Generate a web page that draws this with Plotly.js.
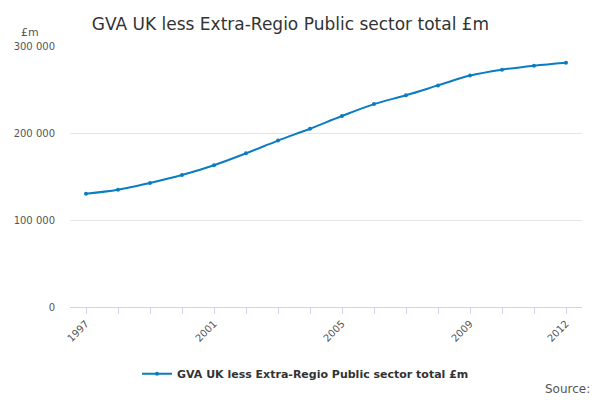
<!DOCTYPE html>
<html>
<head>
<script src="https://cdn.plot.ly/plotly-3.0.1.min.js"></script>
<style>body{margin:0}</style>
</head>
<body>
<div id="chart" style="width:600px;height:400px"></div>
<script>
const years = [1997, 1998, 1999, 2000, 2001, 2002, 2003, 2004, 2005, 2006, 2007, 2008, 2009, 2010, 2011, 2012];
const gva = [130200, 134700, 142600, 151700, 163000, 176600, 191300, 204900, 219600, 233200, 243400, 254700, 266000, 272800, 277400, 280800];
const tickYears = [1997, 2001, 2005, 2009, 2012];
const yTicks = [0, 100000, 200000, 300000];
const yLabels = ['0', '100 000', '200 000', '300 000'];
const seriesName = 'GVA UK less Extra-Regio Public sector total £m';

Plotly.newPlot('chart', [{
    x: years,
    y: gva,
    name: seriesName,
    mode: 'lines+markers',
    type: 'scatter',
    line: { color: '#0a7cc1', width: 2, shape: 'spline' },
    marker: { color: '#0a7cc1', size: 4 }
}], {
    width: 600,
    height: 400,
    font: { family: 'DejaVu Sans, sans-serif', color: '#555', size: 10 },
    title: { text: seriesName, x: 0.153, xanchor: 'left', y: 0.955, font: { size: 17, color: '#333' } },
    margin: { l: 70, r: 18, t: 46, b: 89 },
    showlegend: true,
    legend: { orientation: 'h', x: 0.46, xanchor: 'center', y: -0.2, font: { size: 11, color: '#333', weight: 'bold' } },
    xaxis: {
        range: [1996.5, 2012.5],
        tickvals: tickYears,
        tickangle: -45,
        showgrid: false,
        ticks: 'outside',
        ticklen: 6,
        tickcolor: '#ccd6eb',
        minor: { tickvals: years, ticks: 'outside', ticklen: 6, tickcolor: '#ccd6eb', showgrid: false },
        showline: true,
        linecolor: '#ccd6eb',
        zeroline: false
    },
    yaxis: {
        range: [0, 300000],
        tickvals: yTicks,
        ticktext: yLabels,
        gridcolor: '#e6e6e6',
        zeroline: false,
        ticks: 'outside',
        ticklen: 12,
        tickcolor: 'rgba(0,0,0,0)'
    },
    annotations: [
        { text: '£m', xref: 'paper', yref: 'paper', x: -0.1, y: 1.02, xanchor: 'left', yanchor: 'bottom', showarrow: false, font: { size: 11, color: '#555' } },
        { text: 'Source:', xref: 'paper', yref: 'paper', x: 1.02, y: -0.28, xanchor: 'right', yanchor: 'top', showarrow: false, font: { size: 12, color: '#555' } }
    ]
}, { displayModeBar: false });
</script>
</body>
</html>
